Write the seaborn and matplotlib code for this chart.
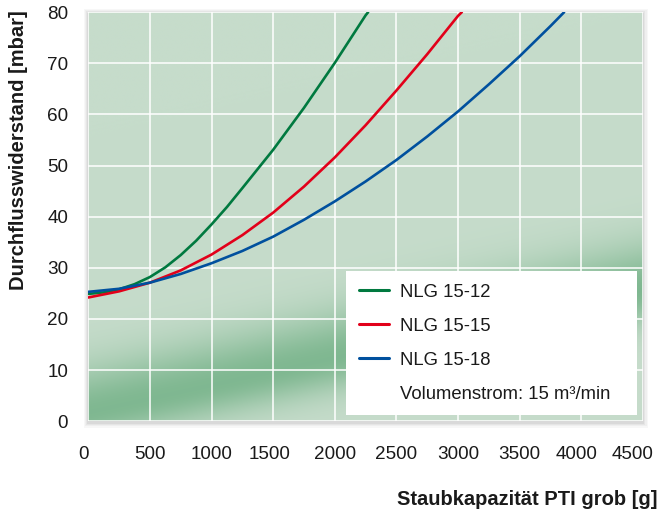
import numpy as np
import pandas as pd
import matplotlib
matplotlib.use("Agg")
import matplotlib.pyplot as plt
import matplotlib.transforms as mtransforms
from matplotlib.lines import Line2D
from matplotlib.patches import Rectangle
import seaborn as sns

# ---- data ----
series_names = ["NLG 15-12", "NLG 15-15", "NLG 15-18"]

x_green = [0, 125, 250, 375, 500, 625, 750, 875, 1000, 1125, 1250, 1500, 1750, 2000, 2250, 2270]
y_green = [24.9, 25.2, 25.8, 26.8, 28.2, 30.1, 32.5, 35.3, 38.5, 41.9, 45.6, 53.1, 61.3, 70.1, 79.4, 80.0]

x_red = [0, 250, 500, 750, 1000, 1250, 1500, 1750, 2000, 2250, 2500, 2750, 3000, 3030]
y_red = [24.2, 25.4, 27.1, 29.5, 32.6, 36.4, 40.8, 45.9, 51.6, 57.9, 64.7, 71.8, 79.3, 80.0]

x_blue = [0, 250, 500, 750, 1000, 1250, 1500, 1750, 2000, 2250, 2500, 2750, 3000, 3250, 3500, 3750, 3860]
y_blue = [25.3, 25.9, 27.1, 28.8, 30.9, 33.3, 36.1, 39.4, 43.0, 46.9, 51.1, 55.7, 60.6, 65.9, 71.4, 77.3, 80.0]

x_ticks = [0, 500, 1000, 1500, 2000, 2500, 3000, 3500, 4000, 4500]
y_ticks = [0, 10, 20, 30, 40, 50, 60, 70, 80]

x_label = "Staubkapazität PTI grob [g]"
y_label = "Durchflusswiderstand [mbar]"
note_text = "Volumenstrom: 15 m³/min"

colors = {"NLG 15-12": "#00793f", "NLG 15-15": "#e2001a", "NLG 15-18": "#00509e"}

df = pd.concat([
    pd.DataFrame({"x": x_green, "y": y_green, "series": series_names[0]}),
    pd.DataFrame({"x": x_red, "y": y_red, "series": series_names[1]}),
    pd.DataFrame({"x": x_blue, "y": y_blue, "series": series_names[2]}),
], ignore_index=True)

# ---- style ----
sns.set_theme(style="white")
plt.rcParams["font.family"] = ["Liberation Sans", "DejaVu Sans"]

fig = plt.figure(figsize=(6.61, 5.15), dpi=100)
fig.patch.set_facecolor("white")
L, R, B, T = 88.3 / 661, 643 / 661, 1 - 421.2 / 515, 1 - 12.2 / 515
ax = fig.add_axes([L, B, R - L, T - B])

# soft shadow around plot area
for i, a in enumerate([0.03, 0.03, 0.04, 0.05]):
    d = (4 - i) * 1.2
    fig.patches.append(Rectangle((L - d / 661, B - (d + 1.5) / 515),
                                 (R - L) + 2 * d / 661, (T - B) + 2 * d / 515,
                                 transform=fig.transFigure, facecolor="black",
                                 edgecolor="none", alpha=a, zorder=-1))

# background gradient (light green with darker diagonal band)
xmax, ymax = 4500, 80
gx = np.linspace(0, xmax, 300)
gy = np.linspace(0, ymax, 300)
GX, GY = np.meshgrid(gx, gy)
center = 1.5 + GX / xmax * 24.0
d = GY - center
s = np.where(d > 0, 6.5, 4.5)
t = 0.95 * np.exp(-0.5 * (d / s) ** 2)
light = np.array([198, 220, 203]) / 255
dark = np.array([124, 182, 142]) / 255
img = light[None, None, :] * (1 - t[..., None]) + dark[None, None, :] * t[..., None]
ax.imshow(img, extent=[0, xmax, 0, ymax], origin="lower", aspect="auto", zorder=0,
          interpolation="bilinear")

sns.lineplot(data=df, x="x", y="y", hue="series", palette=colors, sort=False,
             estimator=None, linewidth=1.9, legend=False, ax=ax, zorder=3)

ax.set_xlim(0, xmax)
ax.set_ylim(0, ymax)
ax.set_xticks(x_ticks)
ax.set_yticks(y_ticks)
ax.set_xticklabels([str(v) for v in x_ticks])
ax.set_yticklabels([str(v) for v in y_ticks])
ax.grid(True, color="white", linewidth=1.1)
ax.set_axisbelow(False)
for gl in ax.get_xgridlines() + ax.get_ygridlines():
    gl.set_zorder(1)
for sp in ax.spines.values():
    sp.set_visible(False)
ax.tick_params(axis="x", length=0, pad=18, labelsize=13.6, labelcolor="#1a1a1a")
ax.tick_params(axis="y", length=0, pad=14.5, labelsize=13.6, labelcolor="#1a1a1a")

# small manual shifts like the reference layout
shift_px = {0: -5, 1500: -4, 4000: -5, 4500: -10}
for val, lab in zip(x_ticks, ax.get_xticklabels()):
    if val in shift_px:
        off = mtransforms.ScaledTranslation(shift_px[val] / 100, 0, fig.dpi_scale_trans)
        lab.set_transform(lab.get_transform() + off)

ax.set_xlabel(x_label, fontsize=14.5, fontweight="bold", color="#1a1a1a", loc="right")
ax.set_ylabel(y_label, fontsize=14.5, fontweight="bold", color="#1a1a1a", loc="top")
ax.xaxis.set_label_coords(1.027, -0.168)
ax.yaxis.set_label_coords(-0.108, 1.005)

handles = [Line2D([0], [0], color=colors[n], linewidth=2.2) for n in series_names]
handles.append(Line2D([0], [0], color="none"))
labels = series_names + [note_text]
leg = ax.legend(handles, labels, loc="lower left",
                bbox_to_anchor=(0.465, 0.015, 0.524, 0.355), mode="expand",
                frameon=True, fancybox=False, facecolor="white", edgecolor="none",
                framealpha=1.0, fontsize=13.3, handlelength=1.65, handletextpad=0.6,
                labelspacing=0.92, borderpad=0.68, borderaxespad=0)
leg.set_zorder(5)
for txt in leg.get_texts():
    txt.set_color("#1a1a1a")

fig.savefig("out.png", dpi=100)
